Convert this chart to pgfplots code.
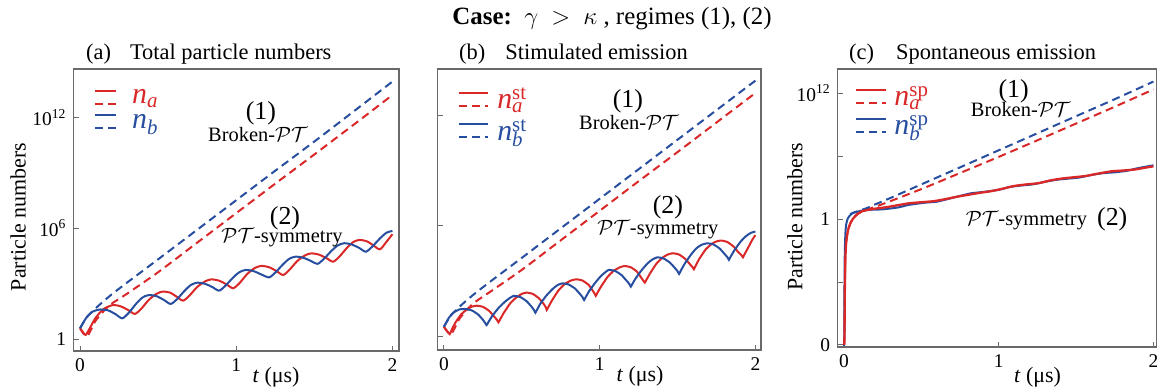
\documentclass[border=0pt]{standalone}
\usepackage{amsmath}
\usepackage{fontspec}
\setmainfont{Liberation Serif}
\usepackage{pgfplots}
\pgfplotsset{compat=1.18}
\definecolor{nred}{RGB}{218,40,40}
\definecolor{nblue}{RGB}{40,78,160}
\definecolor{framegray}{RGB}{105,105,105}
\pgfplotsset{
  panel/.style={
    scale only axis,
    anchor=south west,
    axis line style={draw=framegray, line width=1.2bp},
    tick style={draw=framegray, line width=0.9bp},
    tick align=inside,
    major tick length=5bp,
    xtick pos=bottom, ytick pos=left,
    xtick={0,1,2}, xticklabels={0,1,2},
    ticklabel style={font=\fontsize{19.5}{20}\selectfont},
    /pgf/number format/assume math mode=true,
    xticklabel style={yshift=-4bp},
    yticklabel style={xshift=-4bp},
    xlabel={\textit{t} (μs)},
    label style={font=\fontsize{22}{24}\selectfont},
    legend style={draw=none, fill=none, inner sep=0pt, row sep=5bp,
      font=\fontsize{30}{30}\selectfont, anchor=north west,
      /tikz/every odd column/.style={column sep=13bp}},
    legend cell align=left,
  },
  sol/.style={line width=2bp, smooth, tension=0.45},
  das/.style={line width=2bp, dash pattern=on 8bp off 5bp, smooth, tension=0.4},
  redkey/.style={legend image code/.code={
      \draw[nred,line width=2bp] (0bp,6.5bp)--(#1,6.5bp);
      \draw[nred,line width=2bp,dash pattern=on 8bp off 5bp] (0bp,-6.5bp)--(#1,-6.5bp);}},
  bluekey/.style={legend image code/.code={
      \draw[nblue,line width=2bp] (0bp,6.5bp)--(#1,6.5bp);
      \draw[nblue,line width=2bp,dash pattern=on 8bp off 5bp] (0bp,-6.5bp)--(#1,-6.5bp);}},
}
\newcommand{\anfont}{\fontsize{20.5}{22}\selectfont}
\newcommand{\bigfont}{\fontsize{26}{28}\selectfont}
\newcommand{\nsym}[2]{\textit{n}\rlap{\textsuperscript{#2}}\textsubscript{\textit{#1}}}
\begin{document}
\begin{tikzpicture}
\useasboundingbox (0,0) rectangle (1157bp,390bp);
% title
\node[anchor=base, inner sep=0pt] at (612bp,365bp) {\fontsize{25}{28}\selectfont\textbf{Case:}\ \ $\gamma\ >\ \kappa$\ , regimes (1), (2)};
\node[anchor=base west, inner sep=0pt] at (86bp,330bp) {\fontsize{22.5}{24}\selectfont (a)\hspace{19bp}Total particle numbers};
\node[anchor=base west, inner sep=0pt] at (459bp,330bp) {\fontsize{22.5}{24}\selectfont (b)\hspace{20bp}Stimulated emission};
\node[anchor=base west, inner sep=0pt] at (849bp,330bp) {\fontsize{22.5}{24}\selectfont (c)\hspace{22bp}Spontaneous emission};

% ---------------- (a)
\begin{axis}[panel, at={(73.5bp,39bp)}, width=325.5bp, height=282bp,
  xmin=-0.042, xmax=2.042, ymin=-0.65, ymax=14.63,
  ytick={0,6,12}, yticklabels={1,10\textsuperscript{6},10\textsuperscript{12}},
  ylabel={Particle numbers},
  ylabel style={at={(axis description cs:-0.17,0.475)}, anchor=center},
  xlabel style={at={(axis description cs:0.622,-0.092)}, anchor=center},
  legend style={at={(axis description cs:0.063,0.935)}},
]
\addlegendimage{redkey=21bp}\addlegendentry{\textcolor{nred}{\nsym{a}{}}}
\addlegendimage{bluekey=21bp}\addlegendentry{\textcolor{nblue}{\nsym{b}{}}}
\addplot[das, nred] coordinates {(0,0.58) (0.02,0.32) (0.045,0.14) (0.07,0.5) (0.1,1.0) (0.15,1.5) (0.2,1.9) (0.3,2.45) (0.5,3.62) (0.75,5.22) (1.0,6.82) (1.25,8.42) (1.5,10.0) (1.75,11.6) (2.0,13.22)};
\addplot[das, nblue] coordinates {(0,0.58) (0.04,1.15) (0.08,1.5) (0.12,1.82) (0.2,2.4) (0.3,3.05) (0.5,4.32) (0.75,5.92) (1.0,7.52) (1.25,9.12) (1.5,10.7) (1.75,12.32) (2.0,13.95)};
\addplot[sol, nred] coordinates {(0,0.58) (0.02,0.35) (0.036,0.22) (0.06,0.55) (0.10,1.15) (0.15,1.62) (0.21,1.84) (0.26,1.77) (0.31,1.56) (0.35,1.36)
 (0.39,1.62) (0.44,2.12) (0.49,2.45) (0.53,2.57) (0.58,2.50) (0.62,2.28) (0.66,2.08)
 (0.70,2.35) (0.75,2.82) (0.80,3.12) (0.84,3.23) (0.89,3.16) (0.94,2.95) (0.98,2.75)
 (1.02,3.02) (1.07,3.52) (1.12,3.85) (1.16,3.96) (1.21,3.89) (1.26,3.67) (1.30,3.47)
 (1.34,3.74) (1.39,4.22) (1.44,4.53) (1.48,4.64) (1.53,4.57) (1.58,4.37) (1.62,4.19)
 (1.66,4.46) (1.71,4.95) (1.75,5.26) (1.79,5.37) (1.84,5.28) (1.88,5.06) (1.92,4.86)
 (1.96,5.25) (2.0,5.68)};
\addplot[sol, nblue] coordinates {(0,0.58) (0.04,1.15) (0.08,1.48) (0.13,1.60) (0.18,1.55) (0.23,1.33) (0.27,1.12)
 (0.31,1.40) (0.36,1.92) (0.40,2.25) (0.44,2.38) (0.49,2.32) (0.54,2.10) (0.58,1.90)
 (0.62,2.15) (0.67,2.62) (0.71,2.93) (0.75,3.05) (0.80,2.99) (0.85,2.80) (0.89,2.62)
 (0.93,2.88) (0.98,3.33) (1.02,3.62) (1.06,3.74) (1.11,3.68) (1.16,3.50) (1.21,3.34)
 (1.25,3.60) (1.30,4.05) (1.34,4.35) (1.38,4.46) (1.43,4.40) (1.48,4.22) (1.52,4.07)
 (1.56,4.33) (1.61,4.78) (1.65,5.07) (1.69,5.19) (1.74,5.12) (1.79,4.92) (1.83,4.73)
 (1.87,5.00) (1.92,5.45) (1.96,5.75) (2.0,5.86)};
\node[font=\bigfont] at (axis cs:1.158,12.22) {(1)};
\node[font=\anfont] at (axis cs:1.139,11.06) {Broken-$\mathcal{PT}$};
\node[font=\bigfont] at (axis cs:1.312,6.56) {(2)};
\node[font=\anfont] at (axis cs:1.293,5.47) {$\mathcal{PT}$-symmetry};
\end{axis}

% ---------------- (b)
\begin{axis}[panel, at={(437.7bp,40bp)}, width=323.3bp, height=281bp,
  xmin=-0.04, xmax=2.036, ymin=-0.72, ymax=14.5,
  ytick={0,6,12}, yticklabels={,,},
  xlabel style={at={(axis description cs:0.626,-0.095)}, anchor=center},
  legend style={at={(axis description cs:0.063,0.94)}, /tikz/every odd column/.style={column sep=6bp}},
]
\addlegendimage{redkey=29bp}\addlegendentry{\textcolor{nred}{\nsym{a}{st}}}
\addlegendimage{bluekey=29bp}\addlegendentry{\textcolor{nblue}{\nsym{b}{st}}}
\addplot[das, nred] coordinates {(0,0.54) (0.02,0.3) (0.045,0.12) (0.07,0.48) (0.1,0.98) (0.15,1.48) (0.2,1.88) (0.3,2.45) (0.5,3.62) (0.75,5.22) (1.0,6.82) (1.25,8.42) (1.5,10.0) (1.75,11.6) (2.0,13.2)};
\addplot[das, nblue] coordinates {(0,0.54) (0.04,1.1) (0.08,1.45) (0.12,1.78) (0.2,2.35) (0.3,3.0) (0.5,4.27) (0.75,5.87) (1.0,7.47) (1.25,9.07) (1.5,10.67) (1.75,12.27) (2.0,13.87)};
\addplot[sol, nred, tension=0.3] coordinates {(0,0.54) (0.02,0.3) (0.037,0.14) (0.05,0.38) (0.075,0.78) (0.11,1.2) (0.15,1.5) (0.18,1.63) (0.21,1.68) (0.25,1.62) (0.29,1.40) (0.32,1.12) (0.34,0.92) (0.35,0.78)
 (0.36,0.93) (0.385,1.30) (0.425,1.80) (0.465,2.13) (0.50,2.32) (0.53,2.39) (0.57,2.32) (0.61,2.08) (0.64,1.78) (0.655,1.58) (0.66,1.45)
 (0.67,1.60) (0.695,1.98) (0.735,2.50) (0.775,2.85) (0.815,3.04) (0.85,3.11) (0.89,3.04) (0.93,2.80) (0.955,2.50) (0.968,2.33) (0.975,2.21)
 (0.985,2.37) (1.01,2.73) (1.05,3.23) (1.09,3.57) (1.13,3.76) (1.16,3.83) (1.20,3.76) (1.24,3.52) (1.265,3.22) (1.28,3.04) (1.29,2.93)
 (1.30,3.08) (1.325,3.45) (1.365,3.96) (1.405,4.29) (1.44,4.46) (1.47,4.52) (1.51,4.45) (1.55,4.21) (1.58,3.92) (1.597,3.76) (1.605,3.65)
 (1.615,3.82) (1.64,4.22) (1.68,4.72) (1.72,5.03) (1.75,5.16) (1.78,5.21) (1.82,5.13) (1.86,4.88) (1.89,4.58) (1.91,4.42) (1.92,4.30)
 (1.93,4.46) (1.955,4.85) (1.98,5.25) (2.0,5.50)};
\addplot[sol, nblue, tension=0.3] coordinates {(0,0.54) (0.03,1.0) (0.06,1.3) (0.10,1.48) (0.14,1.50) (0.18,1.42) (0.22,1.2) (0.25,0.92) (0.265,0.74) (0.274,0.63)
 (0.285,0.78) (0.31,1.12) (0.35,1.55) (0.39,1.88) (0.42,2.08) (0.447,2.21) (0.49,2.15) (0.53,1.93) (0.56,1.65) (0.578,1.45) (0.587,1.30)
 (0.597,1.45) (0.62,1.80) (0.66,2.25) (0.70,2.60) (0.73,2.80) (0.76,2.89) (0.80,2.83) (0.84,2.62) (0.87,2.35) (0.89,2.14) (0.90,1.99)
 (0.91,2.14) (0.935,2.50) (0.975,2.96) (1.01,3.30) (1.04,3.52) (1.06,3.62) (1.10,3.56) (1.14,3.34) (1.17,3.06) (1.19,2.86) (1.20,2.71)
 (1.21,2.86) (1.235,3.21) (1.275,3.66) (1.31,3.99) (1.34,4.19) (1.37,4.30) (1.41,4.24) (1.45,4.02) (1.48,3.75) (1.50,3.55) (1.51,3.40)
 (1.52,3.56) (1.545,3.94) (1.585,4.43) (1.62,4.78) (1.655,4.98) (1.69,5.06) (1.73,5.00) (1.77,4.78) (1.80,4.50) (1.82,4.31) (1.83,4.16)
 (1.84,4.32) (1.865,4.68) (1.905,5.15) (1.94,5.45) (1.97,5.62) (2.0,5.70)};
\node[font=\bigfont] at (axis cs:1.181,12.74) {(1)};
\node[font=\anfont] at (axis cs:1.188,11.6) {Broken-$\mathcal{PT}$};
\node[font=\bigfont] at (axis cs:1.438,6.99) {(2)};
\node[font=\anfont] at (axis cs:1.374,5.80) {$\mathcal{PT}$-symmetry};
\end{axis}

% ---------------- (c)
\begin{axis}[panel, at={(837.7bp,43bp)}, width=318.8bp, height=278bp,
  xmin=-0.04, xmax=2.02, ymin=-12.2, ymax=14.3,
  ytick={-12,-6,0,6,12}, yticklabels={0,,1,,10\textsuperscript{12}},
  ylabel={Particle numbers},
  ylabel style={at={(axis description cs:-0.134,0.468)}, anchor=center},
  xlabel style={at={(axis description cs:0.627,-0.108)}, anchor=center},
  legend style={at={(axis description cs:0.055,0.945)}, /tikz/every odd column/.style={column sep=5bp}},
]
\addlegendimage{redkey=30bp}\addlegendentry{\textcolor{nred}{\nsym{a}{sp}}}
\addlegendimage{bluekey=30bp}\addlegendentry{\textcolor{nblue}{\nsym{b}{sp}}}
\addplot[das, nred] coordinates {(0.002,-12.0) (0.004,-10.9) (0.006,-7) (0.009,-4) (0.013,-2.6) (0.02,-1.6) (0.03,-0.9) (0.045,-0.3) (0.065,0.15) (0.09,0.5) (0.12,0.72) (0.16,0.95) (0.2,1.15) (0.3,1.7) (0.5,2.85) (0.75,4.38) (1.0,5.92) (1.25,7.5) (1.5,9.1) (1.75,10.7) (2.0,12.35)};
\addplot[das, nblue] coordinates {(0.04,0.45) (0.06,0.6) (0.1,0.8) (0.15,1.05) (0.2,1.38) (0.3,2.0) (0.5,3.3) (0.75,4.92) (1.0,6.55) (1.25,8.17) (1.5,9.8) (1.75,11.42) (2.0,13.1)};
\addplot[line width=2bp, nblue, smooth, tension=0.35] coordinates {(0.002,-12.1) (0.004,-6) (0.006,-3) (0.01,-1.3) (0.015,-0.5) (0.025,0.05) (0.037,0.3) (0.05,0.5) (0.069,0.62) (0.11,0.78) (0.177,0.89) (0.25,0.92) (0.35,1.1) (0.42,1.35) (0.52,1.55) (0.6,1.65) (0.67,1.9) (0.75,2.2) (0.82,2.45) (0.9,2.58) (1.0,2.78) (1.07,3.05) (1.15,3.2) (1.22,3.3) (1.3,3.55) (1.38,3.75) (1.45,3.85) (1.52,3.95) (1.6,4.2) (1.68,4.38) (1.75,4.45) (1.83,4.6) (1.9,4.85) (2.0,5.12)};
\addplot[line width=2.3bp, nred, smooth, tension=0.35] coordinates {(0.002,-12.0) (0.004,-10.9) (0.006,-7) (0.009,-4) (0.013,-2.6) (0.02,-1.6) (0.03,-0.9) (0.045,-0.3) (0.065,0.15) (0.09,0.5) (0.12,0.75) (0.16,0.88) (0.2,0.98) (0.27,1.12) (0.35,1.32) (0.42,1.5) (0.5,1.6) (0.58,1.7) (0.65,1.88) (0.73,2.12) (0.8,2.3) (0.88,2.5) (0.95,2.65) (1.03,2.9) (1.1,3.15) (1.18,3.3) (1.26,3.42) (1.34,3.7) (1.42,3.88) (1.5,4.0) (1.57,4.12) (1.65,4.35) (1.73,4.55) (1.8,4.62) (1.88,4.72) (1.95,4.9) (2.0,5.02)};
\node[font=\bigfont] at (axis cs:1.097,12.22) {(1)};
\node[font=\anfont] at (axis cs:1.142,10.41) {Broken-$\mathcal{PT}$};
\node at (axis cs:1.31,-0.07) {\anfont$\mathcal{PT}$-symmetry\ \ {\bigfont(2)}};
\end{axis}
\end{tikzpicture}
\end{document}
